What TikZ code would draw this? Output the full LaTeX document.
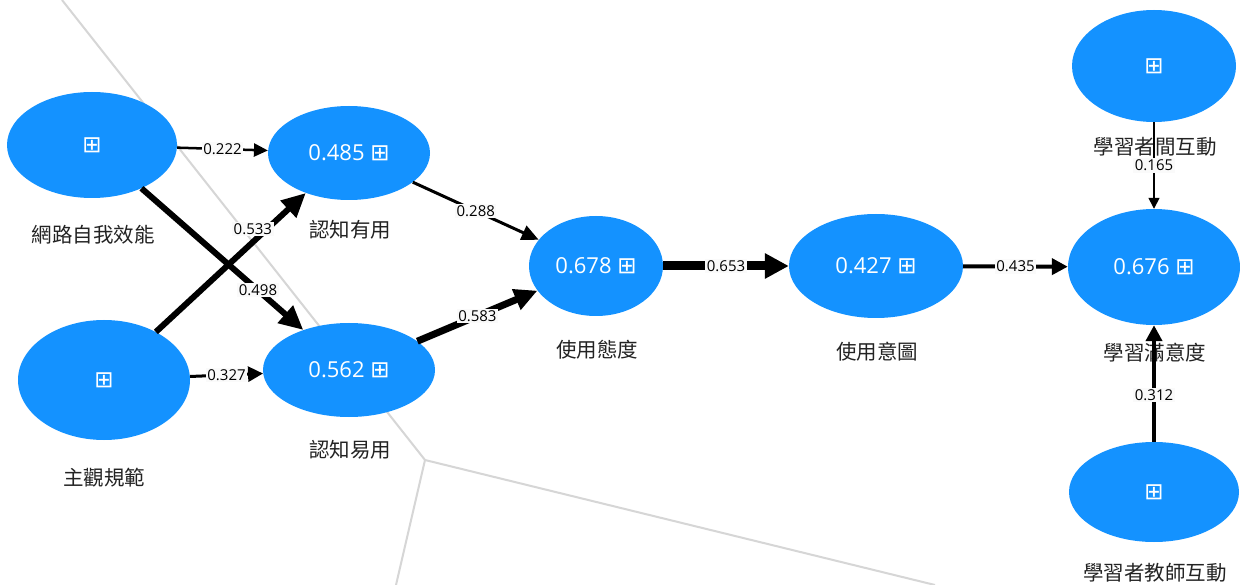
\documentclass[tikz,border=0pt]{standalone}
\usepackage{fontspec}
\setmainfont{Open Sans}
\newfontfamily\cjkfont{Noto Sans CJK TC}
\newfontfamily\symfont{DejaVu Sans}
\usetikzlibrary{arrows.meta,shapes.geometric}
\definecolor{lvblue}{RGB}{20,146,255}
\definecolor{gridgrey}{RGB}{214,214,214}
\definecolor{labelbg}{RGB}{250,250,250}
\definecolor{labeltext}{RGB}{35,35,35}
\newcommand{\plusbox}{{\symfont\fontsize{23}{23}\selectfont ⊞}}
\begin{document}
\begin{tikzpicture}[x=1pt,y=-1pt,
  lv/.style={ellipse, fill=lvblue, inner sep=0pt, text=white, font=\fontsize{22}{26}\selectfont},
  lvname/.style={font=\cjkfont\fontsize{20.5}{22}\selectfont, text=labeltext, inner sep=0pt},
  wt/.style={fill=labelbg, inner sep=1.5pt, font=\fontsize{15}{16}\selectfont, text=black},
  conn/.style={draw=black},
  gridline/.style={draw=gridgrey, line width=2pt}
]
\fill[white] (0,0) rectangle (1240,585);
\useasboundingbox (0,0) rectangle (1240,585);

% background partition lines
\coordinate (g0) at (62,0);
\coordinate (g1) at (425,460);
\coordinate (g2) at (396,585);
\coordinate (g3) at (935,585);
\draw[gridline] (g0) -- (g1) -- (g2);
\draw[gridline] (g1) -- (g3);

% latent variables
\node[lv, minimum width=170pt, minimum height=106pt] (nse) at (92,145) {\plusbox};
\node[lv, minimum width=162pt, minimum height=94pt] (pu) at (349,153) {0.485 \plusbox};
\node[lv, minimum width=172pt, minimum height=120pt] (sn) at (104,380) {\plusbox};
\node[lv, minimum width=172pt, minimum height=94pt] (peou) at (349,370) {0.562 \plusbox};
\node[lv, minimum width=134pt, minimum height=100pt] (att) at (596,266) {0.678 \plusbox};
\node[lv, minimum width=174pt, minimum height=104pt] (bi) at (876,266) {0.427 \plusbox};
\node[lv, minimum width=172pt, minimum height=116pt] (sat) at (1154,267) {0.676 \plusbox};
\node[lv, minimum width=164pt, minimum height=112pt] (li) at (1154,66) {\plusbox};
\node[lv, minimum width=170pt, minimum height=100pt] (ti) at (1154,492) {\plusbox};

% names
\node[lvname] (nnse) at (93,235) {網路自我效能};
\node[lvname] (npu) at (350,230) {認知有用};
\node[lvname] (nsn) at (104,478) {主觀規範};
\node[lvname] (npeou) at (350,450) {認知易用};
\node[lvname] (natt) at (597,350) {使用態度};
\node[lvname] (nbi) at (877,352) {使用意圖};
\node[lvname] (nli) at (1155,147) {學習者間互動};
\node[lvname] (nsat) at (1155,353) {學習滿意度};
\node[lvname] (nti) at (1155,573) {學習者教師互動};

% paths
\draw[conn, line width=2.5pt, -{Triangle[length=14pt,width=13pt]}] (nse) -- node[wt]{0.222} (pu);
\draw[conn, line width=6pt, -{Triangle[length=24pt,width=22pt]}] (nse) -- node[wt,pos=0.72]{0.498} (peou);
\draw[conn, line width=6pt, -{Triangle[length=24pt,width=22pt]}] (sn) -- node[wt,pos=0.74,xshift=-14pt]{0.533} (pu);
\draw[conn, line width=3pt, -{Triangle[length=15pt,width=15pt]}] (sn) -- node[wt]{0.327} (peou);
\draw[conn, line width=3pt, -{Triangle[length=17pt,width=15pt]}] (pu) -- node[wt]{0.288} (att);
\draw[conn, line width=7pt, -{Triangle[length=23pt,width=21pt]}] (peou) -- node[wt]{0.583} (att);
\draw[conn, line width=9pt, -{Triangle[length=24pt,width=24pt]}] (att) -- node[wt]{0.653} (bi);
\draw[conn, line width=4pt, -{Triangle[length=16pt,width=16pt]}] (bi) -- node[wt]{0.435} (sat);
\draw[conn, line width=1.5pt, -{Triangle[length=11pt,width=11pt]}] (li) -- node[wt]{0.165} (sat);
\draw[conn, line width=4pt, -{Triangle[length=16pt,width=16pt]}] (ti) -- node[wt,pos=0.4]{0.312} (sat);
\end{tikzpicture}
\end{document}
